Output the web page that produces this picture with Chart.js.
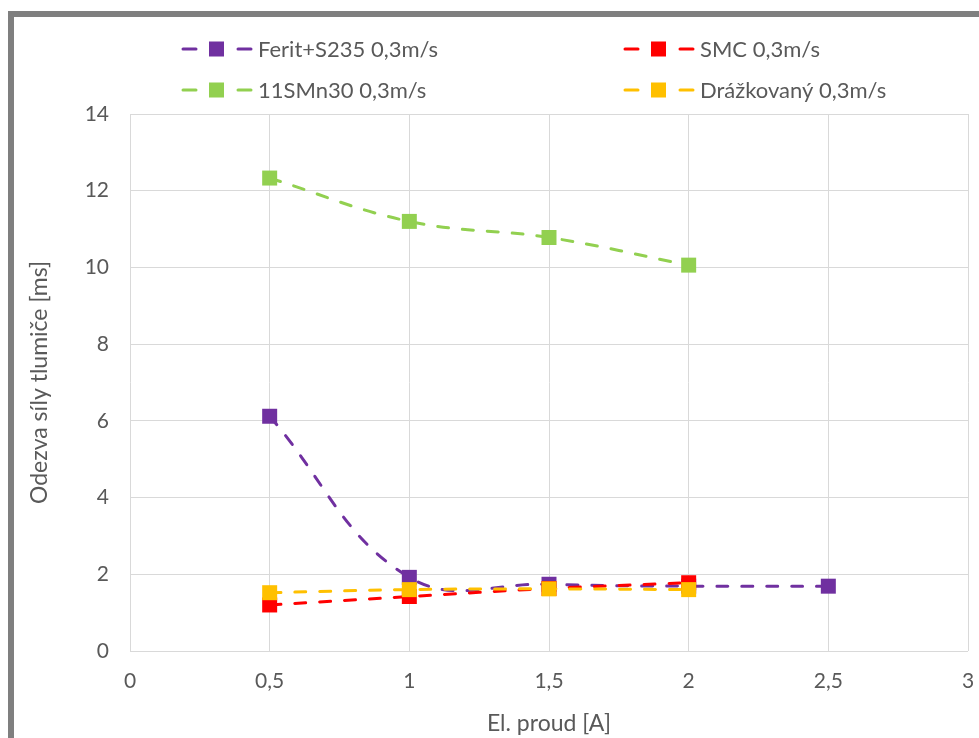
<!DOCTYPE html>
<html>
<head>
<meta charset="utf-8">
<script src="https://cdn.jsdelivr.net/npm/chart.js@4.4.1/dist/chart.umd.min.js"></script>
<style>
  html, body { margin: 0; padding: 0; background: #fff; }
  #wrap { width: 979px; height: 738px; }
</style>
</head>
<body>
<div id="wrap"><canvas id="chart" width="979" height="738"></canvas></div>
<script>
// values
const currents = [0.5, 1, 1.5, 2, 2.5];
const feritS235 = [6.12, 1.92, 1.74, 1.69, 1.69];
const smc = [1.2, 1.42, 1.63, 1.78];
const mn30 = [12.33, 11.2, 10.78, 10.06];
const drazkovany = [1.52, 1.6, 1.62, 1.6];
const seriesNames = ['Ferit+S235 0,3m/s', 'SMC 0,3m/s', '11SMn30 0,3m/s', 'Drážkovaný 0,3m/s'];
const seriesColors = ['#7030a0', '#ff0000', '#92d050', '#ffc000'];
const xLabel = 'El. proud [A]';
const yLabel = 'Odezva síly tlumiče [ms]';

const txt = '#595959';
const font = 'Lato, "Open Sans", sans-serif';

function pts(vals) {
  return vals.map((v, i) => ({ x: currents[i], y: v }));
}

const allSeries = [feritS235, smc, mn30, drazkovany];

const datasets = allSeries.map((vals, i) => ({
  label: seriesNames[i],
  data: pts(vals),
  borderColor: seriesColors[i],
  backgroundColor: seriesColors[i],
  borderWidth: 3,
  borderDash: [11, 14],
  borderCapStyle: 'round',
  pointStyle: 'rect',
  pointRadius: 10.6,
  pointBorderWidth: 0,
  tension: 0.4,
  order: 4 - i
}));

// gray frame round the whole chart
const framePlugin = {
  id: 'frame',
  beforeDraw(chart) {
    const ctx = chart.ctx;
    ctx.save();
    ctx.fillStyle = '#fff';
    ctx.fillRect(0, 0, chart.width, chart.height);
    ctx.strokeStyle = '#7f7f7f';
    ctx.lineWidth = 6;
    ctx.strokeRect(11, 14, chart.width + 20, chart.height + 20);
    ctx.restore();
  }
};

// two-column legend like the Excel one
const legendPlugin = {
  id: 'gridLegend',
  afterDraw(chart) {
    const ctx = chart.ctx;
    const cols = [181, 623];
    const rows = [49, 90];
    ctx.save();
    ctx.font = '22px ' + font;
    ctx.textBaseline = 'middle';
    chart.data.datasets.forEach((ds, i) => {
      const x = cols[i % 2];
      const y = rows[Math.floor(i / 2)];
      ctx.strokeStyle = ds.borderColor;
      ctx.lineWidth = 3;
      ctx.lineCap = 'round';
      ctx.beginPath();
      ctx.moveTo(x + 2, y); ctx.lineTo(x + 15, y);
      ctx.moveTo(x + 57, y); ctx.lineTo(x + 70, y);
      ctx.stroke();
      ctx.fillStyle = ds.backgroundColor;
      ctx.fillRect(x + 28, y - 7.5, 15, 15);
      ctx.fillStyle = txt;
      ctx.fillText(ds.label, x + 77, y + 1);
    });
    ctx.restore();
  }
};

new Chart(document.getElementById('chart').getContext('2d'), {
  type: 'line',
  data: { datasets },
  options: {
    responsive: false,
    animation: false,
    layout: { padding: { top: 114, left: 18, right: 0, bottom: 0 } },
    plugins: { legend: { display: false }, tooltip: { enabled: false } },
    scales: {
      x: {
        type: 'linear',
        min: 0,
        max: 3,
        afterFit(axis) {
          axis.height = 87;
          axis.paddingLeft = 0;
          axis.paddingRight = 11;
        },
        grid: { color: '#d9d9d9', lineWidth: 1, drawTicks: false },
        border: { display: false },
        ticks: {
          stepSize: 0.5,
          padding: 18,
          color: txt,
          font: { family: font, size: 21 },
          callback: v => String(v).replace('.', ',')
        },
        title: { display: true, text: xLabel, color: txt, font: { family: font, size: 23 }, padding: { top: 0, bottom: 1 } }
      },
      y: {
        min: 0,
        max: 14,
        afterFit(axis) { axis.width = 112; },
        grid: { color: '#d9d9d9', lineWidth: 1, drawTicks: false },
        border: { display: false },
        ticks: {
          stepSize: 2,
          padding: 21,
          color: txt,
          font: { family: font, size: 21 }
        },
        title: { display: true, text: yLabel, color: txt, font: { family: font, size: 23 }, padding: { top: 8, bottom: 0 } }
      }
    }
  },
  plugins: [framePlugin, legendPlugin]
});
</script>
</body>
</html>
